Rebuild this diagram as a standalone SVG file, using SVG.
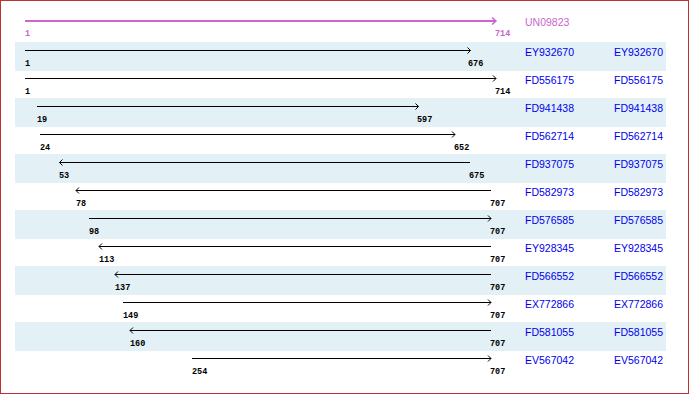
<svg xmlns="http://www.w3.org/2000/svg" width="690" height="396" viewBox="0 0 690 396">
<style>
.band{fill:#e3f0f5}
.ln{stroke:#000;stroke-width:1;fill:none}
.ah{stroke:#000;stroke-width:1;fill:none}
.num{font-family:"Liberation Mono","DejaVu Sans Mono",monospace;font-size:8.5px;font-weight:bold;fill:#000}
.nm{font-family:"Liberation Sans",Arial,sans-serif;font-size:10.5px;fill:#0000ee}
.q{stroke:#cc66cc;stroke-width:2;fill:none}
.qt{fill:#cc66cc}
</style>
<rect x="0" y="0" width="690" height="396" fill="#fff"/>
<rect x="0.5" y="0.5" width="688" height="393" fill="none" stroke="#bb3333" stroke-width="1"/>
<g id="bands">
<rect class="band" x="15" y="42" width="651" height="29"/>
<rect class="band" x="15" y="98" width="651" height="29"/>
<rect class="band" x="15" y="154" width="651" height="29"/>
<rect class="band" x="15" y="210" width="651" height="29"/>
<rect class="band" x="15" y="266" width="651" height="29"/>
<rect class="band" x="15" y="322" width="651" height="29"/>
</g>
<g id="UN09823">
<line class="q" x1="25" y1="21" x2="496" y2="21"/>
<polyline class="q" style="stroke-width:1.5" points="492,17.5 496,21 492,24.5"/>
<text class="num qt" x="25" y="36">1</text>
<text class="num qt" x="495" y="36">714</text>
<text class="nm qt" x="525" y="26">UN09823</text>
</g>
<g id="connectors">
<g id="EY932670">
<line class="ln" x1="25" y1="50.5" x2="470.5" y2="50.5"/><polyline class="ah" points="467.5,47.5 470.5,50.5 467.5,53.5"/>
<text class="num" x="25" y="66">1</text><text class="num" x="468" y="66">676</text>
<text class="nm" x="525" y="56">EY932670</text><text class="nm" x="614" y="56">EY932670</text>
</g>
<g id="FD556175">
<line class="ln" x1="25" y1="78.5" x2="496" y2="78.5"/><polyline class="ah" points="493,75.5 496,78.5 493,81.5"/>
<text class="num" x="25" y="94">1</text><text class="num" x="495" y="94">714</text>
<text class="nm" x="525" y="84">FD556175</text><text class="nm" x="614" y="84">FD556175</text>
</g>
<g id="FD941438">
<line class="ln" x1="37" y1="106.5" x2="418.5" y2="106.5"/><polyline class="ah" points="415.5,103.5 418.5,106.5 415.5,109.5"/>
<text class="num" x="37" y="122">19</text><text class="num" x="417" y="122">597</text>
<text class="nm" x="525" y="112">FD941438</text><text class="nm" x="614" y="112">FD941438</text>
</g>
<g id="FD562714">
<line class="ln" x1="40" y1="134.5" x2="455" y2="134.5"/><polyline class="ah" points="452,131.5 455,134.5 452,137.5"/>
<text class="num" x="40" y="150">24</text><text class="num" x="454" y="150">652</text>
<text class="nm" x="525" y="140">FD562714</text><text class="nm" x="614" y="140">FD562714</text>
</g>
<g id="FD937075">
<line class="ln" x1="59.5" y1="162.5" x2="470" y2="162.5"/><polyline class="ah" points="62.5,159.5 59.5,162.5 62.5,165.5"/>
<text class="num" x="59" y="178">53</text><text class="num" x="469" y="178">675</text>
<text class="nm" x="525" y="168">FD937075</text><text class="nm" x="614" y="168">FD937075</text>
</g>
<g id="FD582973">
<line class="ln" x1="76" y1="190.5" x2="491" y2="190.5"/><polyline class="ah" points="79,187.5 76,190.5 79,193.5"/>
<text class="num" x="76" y="206">78</text><text class="num" x="490" y="206">707</text>
<text class="nm" x="525" y="196">FD582973</text><text class="nm" x="614" y="196">FD582973</text>
</g>
<g id="FD576585">
<line class="ln" x1="89" y1="218.5" x2="491" y2="218.5"/><polyline class="ah" points="488,215.5 491,218.5 488,221.5"/>
<text class="num" x="89" y="234">98</text><text class="num" x="490" y="234">707</text>
<text class="nm" x="525" y="224">FD576585</text><text class="nm" x="614" y="224">FD576585</text>
</g>
<g id="EY928345">
<line class="ln" x1="99" y1="246.5" x2="491" y2="246.5"/><polyline class="ah" points="102,243.5 99,246.5 102,249.5"/>
<text class="num" x="99" y="262">113</text><text class="num" x="490" y="262">707</text>
<text class="nm" x="525" y="252">EY928345</text><text class="nm" x="614" y="252">EY928345</text>
</g>
<g id="FD566552">
<line class="ln" x1="115" y1="274.5" x2="491" y2="274.5"/><polyline class="ah" points="118,271.5 115,274.5 118,277.5"/>
<text class="num" x="115" y="290">137</text><text class="num" x="490" y="290">707</text>
<text class="nm" x="525" y="280">FD566552</text><text class="nm" x="614" y="280">FD566552</text>
</g>
<g id="EX772866">
<line class="ln" x1="123" y1="302.5" x2="491" y2="302.5"/><polyline class="ah" points="488,299.5 491,302.5 488,305.5"/>
<text class="num" x="123" y="318">149</text><text class="num" x="490" y="318">707</text>
<text class="nm" x="525" y="308">EX772866</text><text class="nm" x="614" y="308">EX772866</text>
</g>
<g id="FD581055">
<line class="ln" x1="130" y1="330.5" x2="491" y2="330.5"/><polyline class="ah" points="133,327.5 130,330.5 133,333.5"/>
<text class="num" x="130" y="346">160</text><text class="num" x="490" y="346">707</text>
<text class="nm" x="525" y="336">FD581055</text><text class="nm" x="614" y="336">FD581055</text>
</g>
<g id="EV567042">
<line class="ln" x1="192" y1="358.5" x2="491" y2="358.5"/><polyline class="ah" points="488,355.5 491,358.5 488,361.5"/>
<text class="num" x="192" y="374">254</text><text class="num" x="490" y="374">707</text>
<text class="nm" x="525" y="364">EV567042</text><text class="nm" x="614" y="364">EV567042</text>
</g>
</g>
</svg>
